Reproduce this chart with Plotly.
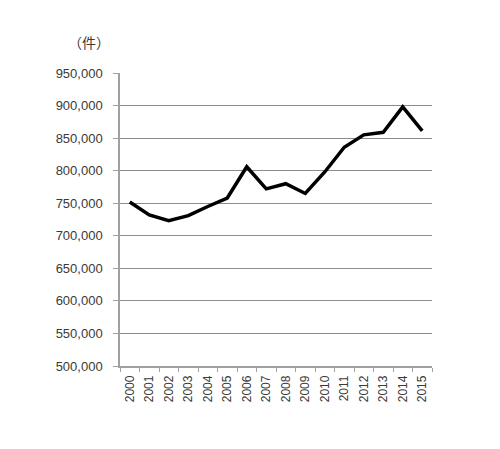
import plotly.graph_objects as go

years = [str(y) for y in range(2000, 2016)]
cases = [752000, 732000, 723000, 731000, 745000, 758000, 806000, 772000,
         780000, 765000, 798000, 836000, 855000, 859000, 898000, 861000]
y_ticks = list(range(500000, 950001, 50000))

fig = go.Figure()
fig.add_trace(go.Scatter(x=years, y=cases, mode="lines",
                         line=dict(color="black", width=3.5),
                         hoverinfo="skip", showlegend=False))

txt = "#3a3a3a"
fam = "Liberation Sans, Arial, sans-serif"

fig.update_layout(
    width=500, height=449,
    margin=dict(l=112, r=76, t=65, b=91),
    paper_bgcolor="white", plot_bgcolor="white",
    font=dict(family=fam, size=12, color=txt),
    xaxis=dict(type="category", range=[-0.5, 15.5], tickangle=-90,
               showline=True, linecolor="#a0a0a0", linewidth=1.5,
               ticks="outside", tickson="boundaries", ticklen=4,
               tickcolor="#a0a0a0", showgrid=False,
               ticklabelstandoff=3,
               tickfont=dict(family=fam, size=12, color=txt)),
    yaxis=dict(range=[500000, 950000], tickvals=y_ticks, tickformat=",d",
               showline=True, linecolor="#a0a0a0", linewidth=1.5,
               ticks="outside", ticklen=5, tickcolor="#a0a0a0",
               showgrid=True, gridcolor="#8c8c8c", gridwidth=1,
               zeroline=False, ticklabelstandoff=8,
               tickfont=dict(family=fam, size=13, color=txt)),
    annotations=[dict(text="（件）", xref="paper", yref="paper",
                      x=-0.10, y=1.065, xanchor="center", yanchor="bottom",
                      showarrow=False,
                      font=dict(family="Noto Sans CJK JP", size=14, color=txt))],
)

fig.write_html("out.html")
